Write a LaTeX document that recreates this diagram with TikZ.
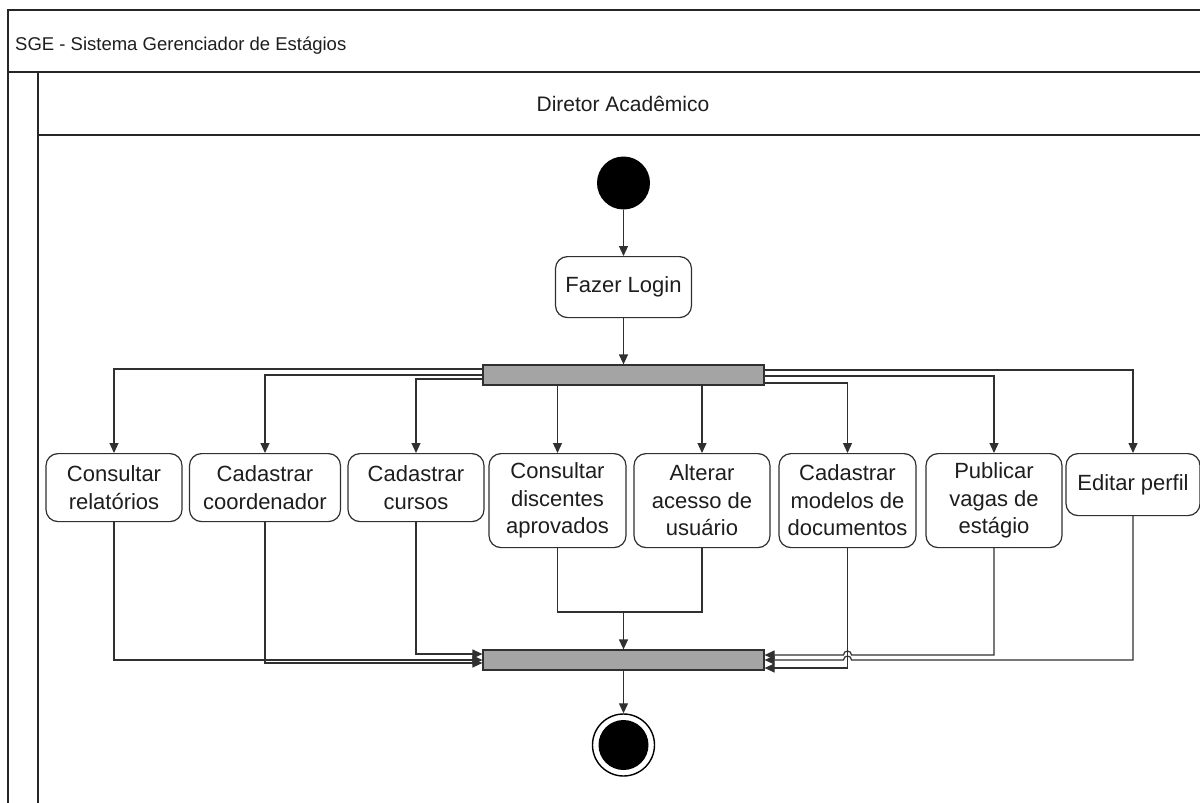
\documentclass[tikz,border=0pt]{standalone}
\usepackage{fontspec}
\setmainfont{Liberation Sans}
\usetikzlibrary{arrows.meta}
\definecolor{ln}{HTML}{303030}
\definecolor{barfill}{HTML}{A4A4A4}
\definecolor{txt}{HTML}{1E1E1E}
\begin{document}
\begin{tikzpicture}[x=1pt,y=-1pt,
  act/.style={draw=ln, line width=1.2pt, rounded corners=12pt, fill=white, align=center,
    text=txt, font=\fontsize{22}{27.5}\selectfont, inner sep=0pt, anchor=north},
  bar/.style={draw=ln, line width=1.2pt, fill=barfill, minimum width=281pt, minimum height=20pt, inner sep=0pt},
  wire/.style={draw=ln, line width=1.2pt},
  arr/.style={wire, -{Triangle[length=10pt,width=9pt]}},
  frame/.style={draw=black!85, line width=1.6pt},
  startnode/.style={circle, fill=black, draw=none, minimum size=53pt, inner sep=0pt},
  endnode/.style={circle, draw=black, line width=1.4pt, fill=white, minimum size=62pt, inner sep=0pt,
    path picture={\fill[black] (path picture bounding box.center) circle (25pt);}}]
\useasboundingbox (0,0) rectangle (1200,803);
\fill[white] (0,0) rectangle (1200,803);
% frame / swimlane
\draw[frame] (1201,10) -- (8,10) -- (8,804);
\draw[frame] (8,72) -- (1201,72);
\draw[frame] (38,72) -- (38,804);
\draw[frame] (38,135) -- (1201,135);
\node[anchor=west, text=txt, font=\fontsize{18.5}{22}\selectfont, inner sep=0pt] (title) at (15,46) {SGE - Sistema Gerenciador de Estágios};
\node[text=txt, font=\fontsize{21}{25}\selectfont, inner sep=0pt] (lane) at (623,104) {Diretor Acadêmico};
% nodes
\node[startnode] (start) at (623.5,183) {};
\node[act, minimum width=136pt, minimum height=61pt] (login) at (623.5,256) {Fazer Login};
\node[bar] (fork) at (623.5,375) {};
\node[act, minimum width=136pt, minimum height=68pt] (n1) at (114,453) {Consultar\\relatórios};
\node[act, minimum width=151pt, minimum height=68pt] (n2) at (265,453) {Cadastrar\\coordenador};
\node[act, minimum width=136pt, minimum height=68pt] (n3) at (416,453) {Cadastrar\\cursos};
\node[act, minimum width=137pt, minimum height=94pt] (n4) at (557.5,453) {Consultar\\discentes\\aprovados};
\node[act, minimum width=136pt, minimum height=94pt] (n5) at (702,453) {Alterar\\acesso de\\usuário};
\node[act, minimum width=137pt, minimum height=94pt] (n6) at (847.5,453) {Cadastrar\\modelos de\\documentos};
\node[act, minimum width=136pt, minimum height=94pt] (n7) at (994,453) {Publicar\\vagas de\\estágio};
\node[act, minimum width=134pt, minimum height=62pt] (n8) at (1133,453) {Editar perfil};
\node[bar] (join) at (623.5,660) {};
\node[endnode] (end) at (623.5,745) {};
% connectors
\draw[arr] (start.south) -- (login.north);
\draw[arr] (login.south) -- (login.south |- fork.north);
\draw[arr] ([yshift=6pt]fork.west) -| (n1.north);
\draw[arr] (fork.west) -| (n2.north);
\draw[arr] ([yshift=-4pt]fork.west) -| (n3.north);
\draw[arr] (fork.south -| n4.north) -- (n4.north);
\draw[arr] (fork.south -| n5.north) -- (n5.north);
\draw[arr] ([yshift=-8pt]fork.east) -| (n6.north);
\draw[arr] ([yshift=-1pt]fork.east) -| (n7.north);
\draw[arr] ([yshift=5pt]fork.east) -| (n8.north);
\coordinate (m) at (623.5,612);
\draw[wire] (n4.south) |- (m);
\draw[wire] (n5.south) |- (m);
\draw[arr] (m) -- (join.north);
\draw[arr] (n1.south) |- (join.west);
\draw[arr] (n2.south) |- ([yshift=-3pt]join.west);
\draw[arr] (n3.south) |- ([yshift=6pt]join.west);
\draw[arr] (n6.south) |- ([yshift=-8pt]join.east);
\coordinate (j7) at (851.5,655);
\coordinate (j8) at (851.5,660);
\draw[arr] (n7.south) |- (j7) arc[start angle=0, end angle=180, radius=4pt] -- ([yshift=5pt]join.east);
\draw[arr] (n8.south) |- (j8) arc[start angle=0, end angle=180, radius=4pt] -- (join.east);
\draw[arr] (join.south) -- (end.north);
\end{tikzpicture}
\end{document}
